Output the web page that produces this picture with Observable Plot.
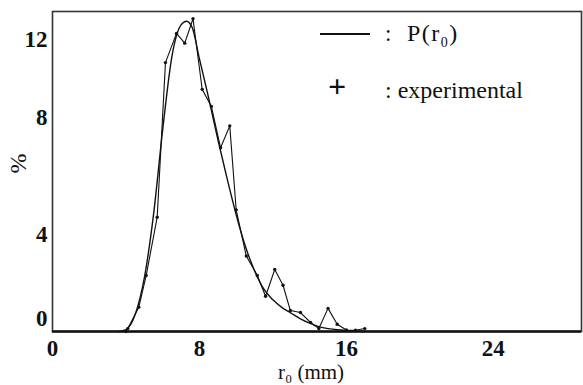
<!DOCTYPE html>
<html>
<head>
<meta charset="utf-8">
<script src="https://cdn.jsdelivr.net/npm/d3@7"></script>
<script src="https://cdn.jsdelivr.net/npm/@observablehq/plot@0.6"></script>
<style>
  html, body { margin: 0; padding: 0; background: #fff; }
  #wrap { position: relative; width: 583px; height: 385px; font-family: "Liberation Serif", serif; color: #111; }
  #wrap svg { display: block; }
  .lg { position: absolute; white-space: nowrap; line-height: 1; }
</style>
</head>
<body>
<div id="wrap"></div>
<script>
// Theoretical distribution P(r0)
const theoryR = [3.6, 4.0, 4.5, 5.0, 5.5, 6.0, 6.5, 7.0, 7.3, 7.6, 8.0, 8.5, 9.0, 9.5, 10.0, 10.5, 11.0, 11.5, 12.0, 12.5, 13.0, 13.5, 14.0, 14.5, 15.0, 15.5, 16.0, 16.5, 17.0];
const theoryP = [0, 0.08, 0.7, 2.2, 4.8, 8.3, 11.3, 12.6, 12.75, 12.5, 11.2, 9.6, 7.9, 6.3, 4.8, 3.5, 2.5, 1.75, 1.3, 0.98, 0.75, 0.52, 0.34, 0.2, 0.12, 0.07, 0.04, 0.02, 0.0];

// Experimental points
const expR = [4.0, 4.1, 4.7, 5.1, 5.7, 6.15, 6.75, 7.2, 7.65, 8.15, 8.65, 9.15, 9.65, 10.0, 10.55, 11.15, 11.6, 12.1, 12.55, 12.95, 13.5, 14.05, 14.5, 15.0, 15.5, 16.0, 16.5, 17.0];
const expP = [0, 0.12, 1.0, 2.3, 4.7, 11.05, 12.25, 11.85, 12.85, 9.95, 9.25, 7.55, 8.45, 5.0, 3.1, 2.3, 1.45, 2.55, 1.9, 0.86, 0.78, 0.37, 0.12, 0.95, 0.3, 0.06, 0.05, 0.12];

const xTicks = [0, 8, 16, 24];
const yTicks = [0, 4, 8, 12];

const theory = theoryR.map((r, i) => ({r, p: theoryP[i]}));
const exper = expR.map((r, i) => ({r, p: expP[i]}));

const tickStyle = {tickSize: 0, tickPadding: 5, fontSize: 23, fontWeight: "bold", label: null};

const chart = Plot.plot({
  width: 583,
  height: 385,
  marginLeft: 52,
  marginRight: 2,
  marginTop: 11,
  marginBottom: 54,
  x: {domain: [0, 28.8]},
  y: {domain: [0, 13.15]},
  style: {fontFamily: "Liberation Serif, serif", background: "#fff", color: "#111"},
  marks: [
    Plot.frame({stroke: "#333", strokeWidth: 1.6}),
    Plot.ruleY([0], {stroke: "#111", strokeWidth: 2.6}),
    Plot.axisX(xTicks, {tickSize: 0, tickPadding: 8, fontSize: 23, fontWeight: "bold", label: null}),
    Plot.axisY(yTicks.filter(d => d === 4 || d === 12), tickStyle),
    Plot.axisY(yTicks.filter(d => d === 8), {...tickStyle, dy: -19}),
    Plot.axisY(yTicks.filter(d => d === 0), {...tickStyle, dy: -13}),
    Plot.text(["%"], {frameAnchor: "left", dx: -34, dy: 2, rotate: -90, fontSize: 24}),
    Plot.text(["r\u2080 (mm)"], {frameAnchor: "bottom", dx: -6, dy: 47, fontSize: 21}),
    Plot.line(theory, {x: "r", y: "p", curve: "monotone-x", stroke: "#111", strokeWidth: 1.4}),
    Plot.line(exper, {x: "r", y: "p", stroke: "#111", strokeWidth: 1.1}),
    Plot.dot(exper, {x: "r", y: "p", r: 1.7, fill: "#111", stroke: "none"})
  ]
});

const wrap = document.getElementById("wrap");
wrap.appendChild(chart);

const legendHTML = `
  <div class="lg" style="left:320px;top:33px;width:50px;height:0;border-top:2px solid #111;"></div>
  <div class="lg" style="left:385px;top:22px;font-size:23px;">:</div>
  <div class="lg" style="left:407px;top:21px;font-size:24px;letter-spacing:1.5px;">P(r<sub style="font-size:14px;">0</sub>)</div>
  <div class="lg" style="left:328px;top:70px;font-size:32px;font-weight:bold;">+</div>
  <div class="lg" style="left:385px;top:78px;font-size:24px;">: experimental</div>
`;
wrap.insertAdjacentHTML("beforeend", legendHTML);
</script>
</body>
</html>
